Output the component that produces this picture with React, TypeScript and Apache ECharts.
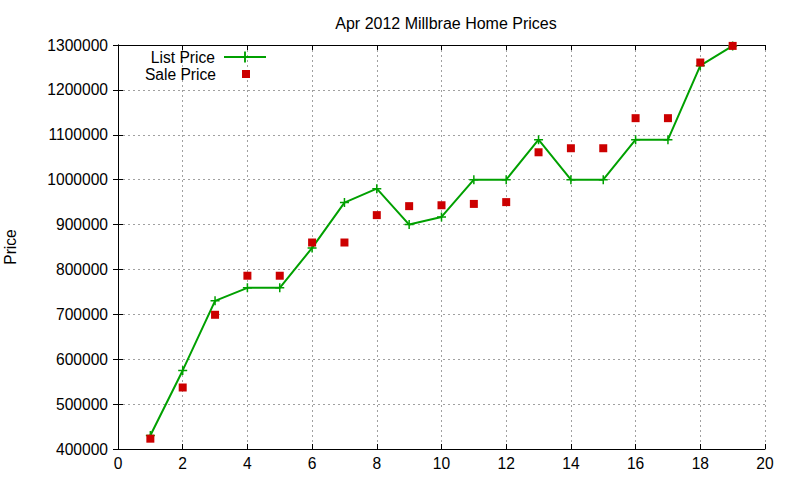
import React, { useEffect, useRef } from 'react';
import * as echarts from 'echarts';

// values
const months = [1, 2, 3, 4, 5, 6, 7, 8, 9, 10, 11, 12, 13, 14, 15, 16, 17, 18, 19];
const listPrice = [430000, 575000, 730000, 759000, 759000, 848000, 949000, 980000, 900000, 917000,
  1000000, 1000000, 1089000, 1000000, 1000000, 1089000, 1089000, 1254000, 1298000];
const salePrice = [423000, 537000, 699000, 786000, 786000, 860000, 860000, 921000, 941000, 943000,
  946000, 950000, 1061000, 1070000, 1070000, 1137000, 1137000, 1261000, 1298000];

const FONT = 'Liberation Sans, Arial, sans-serif';
const PLUS = 'path://M-1,-6H1V-1H6V1H1V6H-1V1H-6V-1H-1Z';

const App = () => {
  const chartRef = useRef(null);

  useEffect(() => {
    const myChart = echarts.init(chartRef.current, null, { renderer: 'svg' });

    const gridLine = { show: true, lineStyle: { color: '#a0a0a0', type: [2, 3], width: 1 } };
    const frame = { show: true, lineStyle: { color: '#000', width: 1 } };
    const label = { color: '#000', fontFamily: FONT, fontSize: 15.6 };
    const tick = { show: true, inside: true, length: 5, lineStyle: { color: '#000' } };

    const option = {
      animation: false,
      title: {
        text: 'Apr 2012 Millbrae Home Prices',
        left: 441,
        textAlign: 'center',
        top: 10,
        textStyle: { color: '#000', fontFamily: FONT, fontSize: 16, fontWeight: 'normal' },
      },
      legend: [
        {
          data: ['List Price'],
          right: 533,
          top: 49,
          padding: 0,
          align: 'right',
          itemWidth: 42,
          itemHeight: 14,
          textStyle: { ...label, lineHeight: 14, padding: [0, 4, 0, 0] },
        },
        {
          data: [{ name: 'Sale Price', icon: 'rect' }],
          right: 550,
          top: 66,
          padding: 0,
          align: 'right',
          itemWidth: 8,
          itemHeight: 8,
          textStyle: { ...label, lineHeight: 14, padding: [0, 21, 0, 0] },
        },
      ],
      grid: { left: 118, right: 35, top: 45, bottom: 31, outerBoundsMode: 'none' },
      xAxis: [
        {
          type: 'value',
          min: 0,
          max: 20,
          interval: 2,
          axisLine: frame,
          axisTick: tick,
          axisLabel: { ...label, margin: 6 },
          splitLine: gridLine,
        },
        {
          type: 'value',
          position: 'top',
          min: 0,
          max: 20,
          interval: 2,
          axisLine: frame,
          axisTick: tick,
          axisLabel: { show: false },
          splitLine: { show: false },
        },
      ],
      yAxis: [
        {
          type: 'value',
          min: 400000,
          max: 1300000,
          interval: 100000,
          name: 'Price',
          nameLocation: 'middle',
          nameGap: 100,
          nameTextStyle: { ...label },
          axisLine: frame,
          axisTick: tick,
          axisLabel: { ...label, margin: 10, formatter: (v: number) => String(v) },
          splitLine: gridLine,
        },
        {
          type: 'value',
          position: 'right',
          min: 400000,
          max: 1300000,
          interval: 100000,
          axisLine: frame,
          axisTick: tick,
          axisLabel: { show: false },
          splitLine: { show: false },
        },
      ],
      series: [
        {
          name: 'List Price',
          type: 'line',
          data: months.map((m, i) => [m, listPrice[i]]),
          symbol: PLUS,
          symbolSize: 9,
          showAllSymbol: true,
          lineStyle: { color: '#00a000', width: 2 },
          itemStyle: { color: '#00a000' },
          z: 2,
        },
        {
          name: 'Sale Price',
          type: 'scatter',
          data: months.map((m, i) => [m, salePrice[i]]),
          symbol: 'rect',
          symbolSize: 8,
          itemStyle: { color: '#cc0000', opacity: 1 },
          z: 3,
        },
      ],
    };

    myChart.setOption(option);

    return () => {
      myChart.dispose();
    };
  }, []);

  return (
    <div
      ref={chartRef}
      style={{ position: 'fixed', left: 0, top: 0, width: '800px', height: '480px', background: '#fff' }}
    />
  );
};

export default App;
